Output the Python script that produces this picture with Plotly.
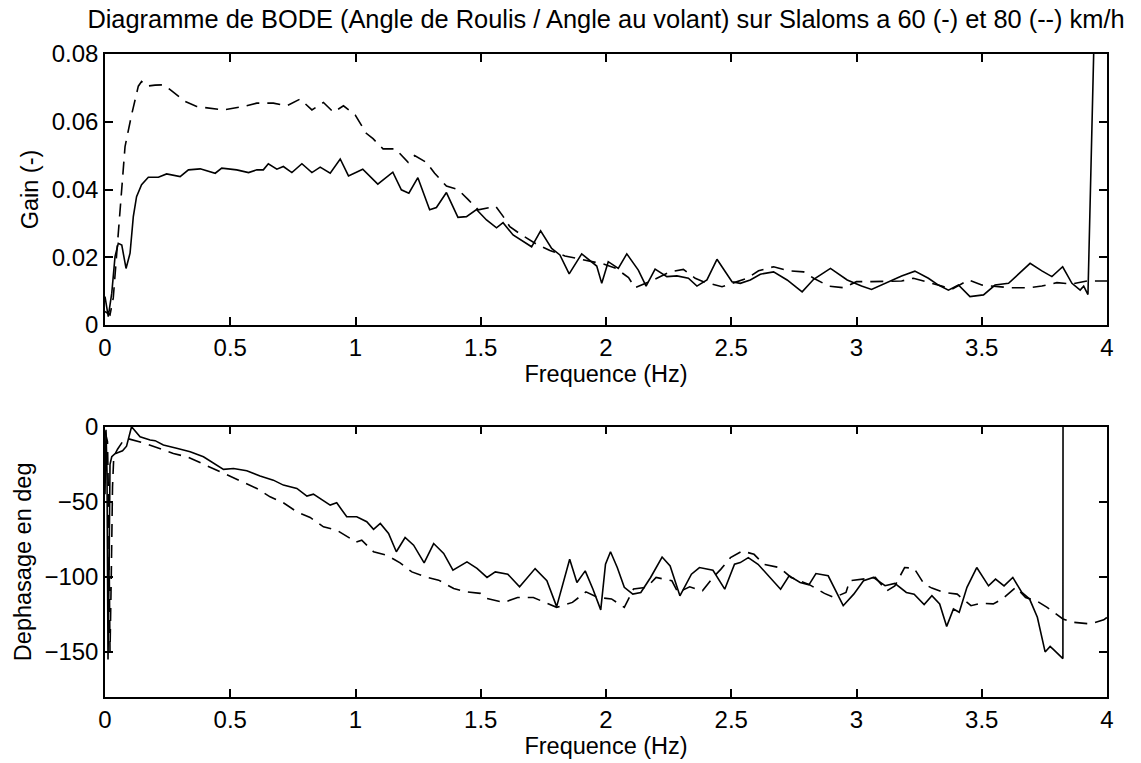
import plotly.graph_objects as go

# ---------------- data ----------------
freq_gain_60 = [0, 0.013, 0.027, 0.04, 0.053, 0.067, 0.084, 0.1, 0.113, 0.126,
                0.146, 0.173, 0.213, 0.246, 0.3, 0.333, 0.38, 0.44, 0.466, 0.526,
                0.573, 0.606, 0.632, 0.652, 0.686, 0.712, 0.746, 0.786, 0.826, 0.859,
                0.899, 0.939, 0.972, 1.005, 1.029, 1.089, 1.149, 1.183, 1.213, 1.249,
                1.296, 1.323, 1.363, 1.409, 1.443, 1.483, 1.523, 1.563, 1.589, 1.629,
                1.703, 1.739, 1.783, 1.816, 1.853, 1.903, 1.963, 1.983, 2.009, 2.049,
                2.083, 2.129, 2.16, 2.196, 2.243, 2.283, 2.329, 2.363, 2.403, 2.443,
                2.503, 2.536, 2.576, 2.616, 2.669, 2.723, 2.783, 2.829, 2.896, 2.963,
                3.02, 3.06, 3.113, 3.18, 3.233, 3.287, 3.327, 3.367, 3.407, 3.453,
                3.507, 3.553, 3.607, 3.693, 3.74, 3.78, 3.823, 3.86, 3.893, 3.907,
                3.924, 3.95]
gain_60 = [0.0084, 0.0025, 0.0094, 0.0202, 0.0241, 0.0236, 0.0167, 0.0212, 0.032, 0.0379,
           0.0414, 0.0436, 0.0436, 0.0446, 0.0438, 0.0458, 0.0461, 0.0448, 0.0463, 0.0458,
           0.045, 0.0458, 0.0458, 0.0476, 0.046, 0.0468, 0.045, 0.0476, 0.045, 0.0466,
           0.0448, 0.049, 0.044, 0.0453, 0.046, 0.0416, 0.0451, 0.0399, 0.0389, 0.0435,
           0.034, 0.0347, 0.0391, 0.0318, 0.032, 0.0341, 0.031, 0.0287, 0.0302, 0.0266,
           0.0231, 0.0278, 0.0226, 0.0207, 0.0151, 0.021, 0.0174, 0.0123, 0.0187, 0.0167,
           0.021, 0.0162, 0.0115, 0.0165, 0.0143, 0.0145, 0.0138, 0.0115, 0.0133, 0.0194,
           0.0128, 0.0123, 0.0133, 0.015, 0.0157, 0.0133, 0.0098, 0.0135, 0.0167, 0.0133,
           0.0115, 0.0105, 0.0123, 0.0145, 0.0159, 0.0138, 0.0118, 0.0103, 0.0118, 0.0084,
           0.0089, 0.0118, 0.0123, 0.0182, 0.016, 0.0143, 0.0172, 0.0123, 0.0103, 0.0115,
           0.009, 0.09]

freq_gain_80 = [0, 0.02, 0.033, 0.053, 0.08, 0.106, 0.133, 0.146, 0.166, 0.2,
                0.233, 0.26, 0.32, 0.366, 0.433, 0.473, 0.553, 0.606, 0.672, 0.726,
                0.779, 0.826, 0.872, 0.912, 0.952, 0.999, 1.043, 1.07, 1.11, 1.16,
                1.21, 1.236, 1.283, 1.316, 1.363, 1.409, 1.45, 1.49, 1.56, 1.59,
                1.616, 1.663, 1.72, 1.776, 1.836, 1.883, 1.936, 1.99, 2.04, 2.09,
                2.116, 2.18, 2.256, 2.309, 2.356, 2.389, 2.463, 2.503, 2.563, 2.609,
                2.669, 2.729, 2.789, 2.829, 2.889, 2.949, 3.0, 3.06, 3.12, 3.18,
                3.227, 3.28, 3.34, 3.38, 3.447, 3.5, 3.553, 3.613, 3.687, 3.74,
                3.8, 3.86, 3.92, 3.98, 4.0]
gain_80 = [0.004, 0.003, 0.008, 0.027, 0.0527, 0.062, 0.0705, 0.0719, 0.0705, 0.0708,
           0.0709, 0.0695, 0.066, 0.0645, 0.064, 0.0635, 0.0645, 0.0655, 0.0655, 0.0647,
           0.0667, 0.0635, 0.0657, 0.0628, 0.0647, 0.062, 0.0566, 0.055, 0.052, 0.052,
           0.048, 0.05, 0.048, 0.0448, 0.041, 0.04, 0.037, 0.034, 0.035, 0.032,
           0.029, 0.0266, 0.024, 0.022, 0.0204, 0.0197, 0.0187, 0.018, 0.0167, 0.014,
           0.011, 0.013, 0.0157, 0.0164, 0.0138, 0.0128, 0.0113, 0.0123, 0.0138, 0.016,
           0.0172, 0.016, 0.0157, 0.0138, 0.0115, 0.011, 0.0128, 0.0128, 0.013, 0.013,
           0.0138, 0.0128, 0.0115, 0.0105, 0.0133, 0.0118, 0.0115, 0.011, 0.011, 0.0115,
           0.0125, 0.0121, 0.013, 0.013, 0.013]

freq_phase_60 = [0, 0.004, 0.008, 0.012, 0.016, 0.02, 0.027, 0.04, 0.055, 0.07,
                 0.086, 0.1, 0.106, 0.14, 0.18, 0.2, 0.233, 0.286, 0.34, 0.393,
                 0.433, 0.473, 0.513, 0.566, 0.619, 0.672, 0.712, 0.766, 0.806, 0.832,
                 0.899, 0.925, 0.965, 1.005, 1.045, 1.072, 1.099, 1.132, 1.163, 1.198,
                 1.232, 1.274, 1.312, 1.352, 1.389, 1.445, 1.485, 1.525, 1.558, 1.577,
                 1.608, 1.655, 1.717, 1.764, 1.803, 1.855, 1.884, 1.917, 1.948, 1.979,
                 1.998, 2.018, 2.045, 2.073, 2.107, 2.139, 2.178, 2.224, 2.256, 2.295,
                 2.341, 2.373, 2.427, 2.474, 2.513, 2.536, 2.568, 2.607, 2.653, 2.697,
                 2.731, 2.775, 2.81, 2.838, 2.887, 2.947, 2.989, 3.028, 3.067, 3.114,
                 3.153, 3.199, 3.23, 3.27, 3.301, 3.332, 3.36, 3.387, 3.41, 3.441,
                 3.48, 3.527, 3.555, 3.589, 3.624, 3.66, 3.691, 3.722, 3.753, 3.773,
                 3.792, 3.824, 3.825]
phase_60 = [-45, -2, -30, -155, -100, -25, -20, -18, -17, -16,
            -13, -4, 0, -6.7, -8.9, -9.3, -12.2, -14.4, -16.7, -20,
            -24.4, -28.4, -27.8, -29.3, -32.9, -35.6, -38.9, -41.1, -46.2, -44.9,
            -52.2, -50.7, -60, -60, -63.3, -68.4, -64.4, -71.1, -83.3, -73.8,
            -78.9, -90.7, -77.8, -84.4, -95.6, -90, -94.4, -100.4, -96.7, -97.1,
            -98.2, -106.6, -94.5, -102.6, -119.8, -88.3, -103.7, -96, -108.2, -122,
            -91.6, -83.3, -93.8, -107, -111.5, -110.4, -100.4, -86.8, -92.7, -112.6,
            -98.2, -93.8, -95.6, -108.2, -91.6, -90.5, -87.2, -91.6, -100.4, -108.2,
            -99.3, -103.7, -105.3, -97.8, -99.3, -119.2, -111.5, -102.6, -100.4, -105.9,
            -104.4, -110.4, -111.5, -118.5, -112.6, -118, -133, -121.4, -123.6, -107,
            -93.8, -106, -101.5, -106, -100.4, -110.4, -114.8, -126.9, -150, -146.3,
            -149.3, -154.4, 180]

freq_phase_80 = [0, 0.01, 0.015, 0.02, 0.025, 0.03, 0.035, 0.05, 0.07, 0.087,
                 0.16, 0.213, 0.273, 0.333, 0.386, 0.446, 0.5, 0.553, 0.606, 0.659,
                 0.712, 0.766, 0.819, 0.872, 0.925, 0.979, 1.0, 1.025, 1.072, 1.125,
                 1.178, 1.225, 1.278, 1.332, 1.392, 1.445, 1.498, 1.525, 1.593, 1.647,
                 1.71, 1.756, 1.803, 1.866, 1.92, 1.967, 2.022, 2.073, 2.11, 2.162,
                 2.2, 2.263, 2.287, 2.334, 2.385, 2.427, 2.458, 2.497, 2.544, 2.591,
                 2.63, 2.692, 2.739, 2.81, 2.872, 2.911, 2.958, 2.973, 3.028, 3.075,
                 3.121, 3.153, 3.192, 3.23, 3.27, 3.301, 3.348, 3.402, 3.457, 3.496,
                 3.546, 3.582, 3.636, 3.675, 3.722, 3.761, 3.824, 3.862, 3.933, 3.987,
                 4.0]
phase_80 = [-3, -10, -60, -150, -100, -40, -20, -15, -10, -7.8,
            -11.1, -14.4, -17.8, -20.4, -24.4, -28.9, -32.9, -37.3, -41.1, -46.7,
            -50.7, -56.7, -60.4, -66.7, -68.9, -74.4, -77, -75.6, -83.3, -85.6,
            -90.7, -96.7, -100, -102.2, -107.8, -110, -111, -114.4, -117, -113.7,
            -113.7, -117, -120.3, -117, -110, -113.7, -114.7, -120.3, -108, -107,
            -100.4, -102.6, -110.4, -106.6, -109.3, -100.4, -95, -87.2, -82.8, -85,
            -91.6, -93.8, -100.4, -105, -111, -113.7, -110.4, -102.6, -101.5, -100.4,
            -109.3, -106, -93.8, -94.3, -104.8, -107.5, -110.4, -111.5, -119.2, -117.6,
            -118, -114.8, -107, -113.7, -116.3, -120.3, -128, -130.2, -131.3, -128.6,
            -127]

x_ticks = [0, 0.5, 1, 1.5, 2, 2.5, 3, 3.5, 4]
x_tick_labels = ["0", "0.5", "1", "1.5", "2", "2.5", "3", "3.5", "4"]
gain_ticks = [0, 0.02, 0.04, 0.06, 0.08]
gain_tick_labels = ["0", "0.02", "0.04", "0.06", "0.08"]
phase_ticks = [-150, -100, -50, 0]
phase_tick_labels = ["\u2212150", "\u2212100", "\u221250", "0"]

title_text = "Diagramme de BODE (Angle de Roulis / Angle au volant) sur Slaloms a 60 (-) et 80 (--) km/h"

# ---------------- figure ----------------
FONT = "Liberation Sans, Arial, Helvetica, sans-serif"
TICK_SIZE = 24
LABEL_SIZE = 23.5
solid = dict(color="black", width=1.6)
dashed = dict(color="black", width=1.6, dash="13px,8px")

fig = go.Figure()
fig.add_trace(go.Scatter(x=freq_gain_60, y=gain_60, mode="lines", line=solid,
                         xaxis="x", yaxis="y", name="60 km/h", showlegend=False))
fig.add_trace(go.Scatter(x=freq_gain_80, y=gain_80, mode="lines", line=dashed,
                         xaxis="x", yaxis="y", name="80 km/h", showlegend=False))
fig.add_trace(go.Scatter(x=freq_phase_60, y=phase_60, mode="lines", line=solid,
                         xaxis="x2", yaxis="y2", name="60 km/h", showlegend=False))
fig.add_trace(go.Scatter(x=freq_phase_80, y=phase_80, mode="lines", line=dashed,
                         xaxis="x2", yaxis="y2", name="80 km/h", showlegend=False))

axis_common = dict(showgrid=False, zeroline=False, showline=True, linecolor="black",
                   linewidth=1.5, mirror="ticks", ticks="inside", ticklen=8,
                   tickwidth=1.5, tickcolor="black",
                   tickfont=dict(family=FONT, size=TICK_SIZE, color="black"))

fig.update_layout(
    width=1141, height=763,
    margin=dict(l=105, r=34, t=54, b=66),
    paper_bgcolor="white", plot_bgcolor="white",
    font=dict(family=FONT, color="black"),
    title=dict(text=title_text, x=0.5, xref="paper", xanchor="center",
               y=1 - 19 / 763, yref="container", yanchor="middle",
               font=dict(family=FONT, size=25.4, color="black")),
    xaxis=dict(axis_common, domain=[0, 1], range=[0, 4], anchor="y",
               tickvals=x_ticks, ticktext=x_tick_labels,
               title=dict(text="Frequence (Hz)", standoff=0,
                          font=dict(family=FONT, size=LABEL_SIZE, color="black"))),
    yaxis=dict(axis_common, domain=[0.5785, 1], range=[0, 0.08], anchor="x",
               tickvals=gain_ticks, ticktext=gain_tick_labels,
               title=dict(text="Gain (-)", standoff=6,
                          font=dict(family=FONT, size=LABEL_SIZE, color="black"))),
    xaxis2=dict(axis_common, domain=[0, 1], range=[0, 4], anchor="y2",
                tickvals=x_ticks, ticktext=x_tick_labels,
                title=dict(text="Frequence (Hz)", standoff=0,
                           font=dict(family=FONT, size=LABEL_SIZE, color="black"))),
    yaxis2=dict(axis_common, domain=[0, 0.4204], range=[-180, 0], anchor="x2",
                tickvals=phase_ticks, ticktext=phase_tick_labels,
                title=dict(text="Dephasage en deg", standoff=6,
                           font=dict(family=FONT, size=LABEL_SIZE, color="black"))),
)

# remove the browser's default 8px page margin so the figure fills the window exactly
fig.write_html("out.html", config={"displayModeBar": False},
               post_script="document.body.style.margin='0';")
